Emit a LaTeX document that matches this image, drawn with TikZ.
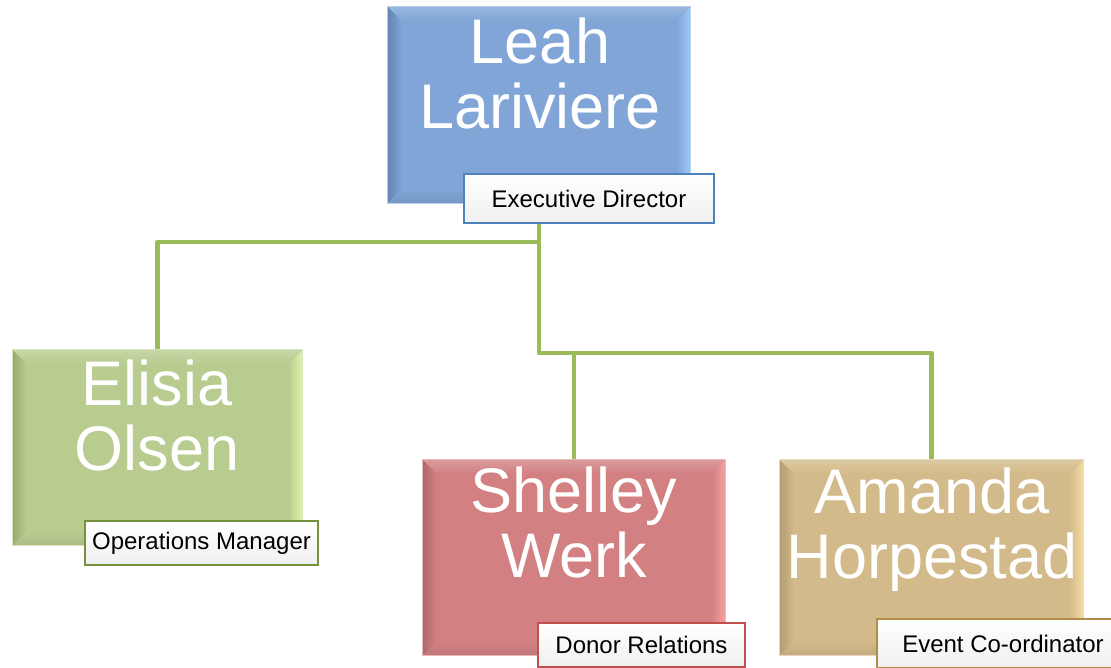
\documentclass[tikz,border=0pt]{standalone}
\usepackage{fontspec}
\setmainfont{Liberation Sans}
\usetikzlibrary{calc}
\definecolor{bluemain}{RGB}{128,165,214}
\definecolor{bluedark}{RGB}{100,132,180}
\definecolor{bluelight}{RGB}{158,200,250}
\definecolor{blueedge}{RGB}{79,129,189}
\definecolor{greenmain}{RGB}{184,204,143}
\definecolor{greendark}{RGB}{152,172,114}
\definecolor{greenlight}{RGB}{220,244,168}
\definecolor{greenedge}{RGB}{118,146,60}
\definecolor{redmain}{RGB}{210,128,130}
\definecolor{reddark}{RGB}{174,106,108}
\definecolor{redlight}{RGB}{246,160,160}
\definecolor{rededge}{RGB}{192,80,77}
\definecolor{goldmain}{RGB}{211,186,138}
\definecolor{golddark}{RGB}{178,156,114}
\definecolor{goldlight}{RGB}{244,220,162}
\definecolor{goldedge}{RGB}{176,140,72}
\definecolor{conncol}{RGB}{155,187,89}
\newcommand\bevelbox[4]{%
  \shade[left color=#3, right color=#2] (#1.north west) -- (#1.south west) -- ($(#1.south west)+(14,-14)$) -- ($(#1.north west)+(14,14)$) -- cycle;
  \shade[left color=#2, right color=#4] (#1.north east) -- (#1.south east) -- ($(#1.south east)+(-14,-14)$) -- ($(#1.north east)+(-14,14)$) -- cycle;
  \shade[top color=#2!80!white, bottom color=#2] (#1.north west) -- (#1.north east) -- ($(#1.north east)+(-14,14)$) -- ($(#1.north west)+(14,14)$) -- cycle;
  \shade[top color=#2, bottom color=#2!92!black] (#1.south west) -- (#1.south east) -- ($(#1.south east)+(-14,-14)$) -- ($(#1.south west)+(14,-14)$) -- cycle;
  \draw[#2!55!white, line width=1pt] (#1.north west) rectangle (#1.south east);
}
\tikzset{
  namebox/.style={rectangle, inner sep=0pt, draw=none},
  nametext/.style={text=white, font=\fontsize{63}{65}\selectfont, align=center, inner sep=0pt, anchor=north},
  rolebox/.style={rectangle, draw=#1, line width=1.5pt, top color=white, bottom color=black!6!white, font=\fontsize{24}{28}\selectfont, text=black, inner sep=0pt},
  conn/.style={draw=conncol, line width=4.5pt, line join=round}
}
\begin{document}
\begin{tikzpicture}[x=1pt,y=-1pt]
\useasboundingbox (0,0) rectangle (1111,668);
% boxes (positions)
\node[namebox, minimum width=302pt, minimum height=196pt] (leah) at (539,105) {};
\node[namebox, minimum width=289pt, minimum height=195pt] (elisia) at (157.5,447.5) {};
\node[namebox, minimum width=302pt, minimum height=195pt] (shelley) at (574,557.5) {};
\node[namebox, minimum width=303pt, minimum height=195pt] (amanda) at (931.5,557.5) {};
% connectors
\coordinate (j1) at (539,242);
\coordinate (j2) at (539,353);
\draw[conn] (leah.south) -- (j2) -| (amanda.north);
\draw[conn] (j1) -| (elisia.north);
\draw[conn] (shelley.north |- j2) -- (shelley.north);
% fills
\fill[bluemain] (leah.north west) rectangle (leah.south east);
\bevelbox{leah}{bluemain}{bluedark}{bluelight}
\fill[greenmain] (elisia.north west) rectangle (elisia.south east);
\bevelbox{elisia}{greenmain}{greendark}{greenlight}
\fill[redmain] (shelley.north west) rectangle (shelley.south east);
\bevelbox{shelley}{redmain}{reddark}{redlight}
\fill[goldmain] (amanda.north west) rectangle (amanda.south east);
\bevelbox{amanda}{goldmain}{golddark}{goldlight}
% names
\node[nametext] (leahname) at (540,18) {Leah\\Lariviere};
\node[nametext] (elisianame) at (157,360) {Elisia\\Olsen};
\node[nametext] (shelleyname) at (574,467) {Shelley\\Werk};
\node[nametext] (amandaname) at (932,468) {Amanda\\Horpestad};
% roles
\node[rolebox=blueedge, minimum width=250pt, minimum height=49pt] (leahrole) at (589,198.5) {Executive Director};
\node[rolebox=greenedge, minimum width=233pt, minimum height=44pt] (elisiarole) at (201.5,543) {Operations Manager};
\node[rolebox=rededge, minimum width=207pt, minimum height=44pt] (shelleyrole) at (641.5,645) {Donor Relations};
\node[rolebox=goldedge, minimum width=252pt, minimum height=49pt] (amandarole) at (1003,643.5) {Event Co-ordinator};
\end{tikzpicture}
\end{document}
